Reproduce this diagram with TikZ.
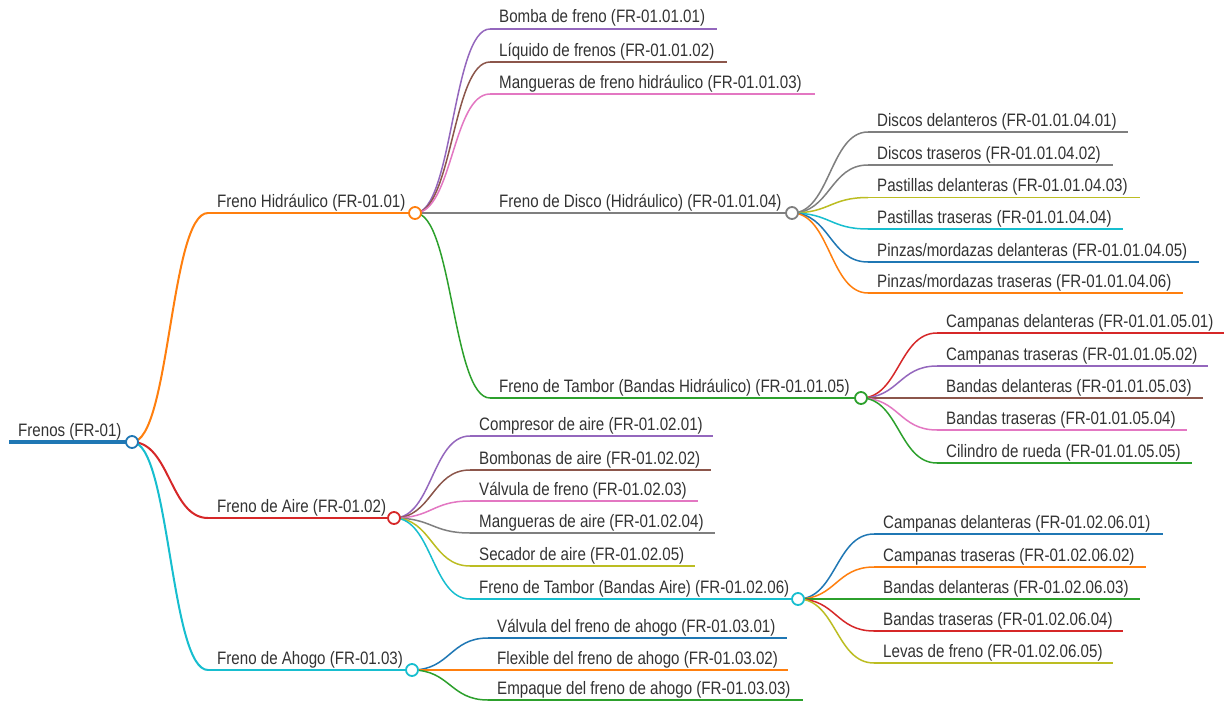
\documentclass[tikz,border=0pt]{standalone}
\usepackage{fontspec}
\setmainfont{Liberation Sans}[FakeStretch=0.84]
\usetikzlibrary{calc}

% category palette
\definecolor{cBlue}{HTML}{1F77B4}
\definecolor{cOrange}{HTML}{FF7F0E}
\definecolor{cGreen}{HTML}{2CA02C}
\definecolor{cRed}{HTML}{D62728}
\definecolor{cPurple}{HTML}{9467BD}
\definecolor{cBrown}{HTML}{8C564B}
\definecolor{cPink}{HTML}{E377C2}
\definecolor{cGray}{HTML}{7F7F7F}
\definecolor{cOlive}{HTML}{BCBD22}
\definecolor{cCyan}{HTML}{17BECF}
\definecolor{txt}{HTML}{333333}

\tikzset{
  mmtext/.style={anchor=base west, inner sep=0pt, text=txt,
                 font=\fontsize{18}{22}\selectfont},
  mmdot/.style={circle, draw, fill=white, inner sep=0pt,
                minimum size=12pt, line width=1.8pt},
}

% topic: name, text x, line y, line end x, colour, width, text
\newcommand\mmnode[7]{%
  \coordinate (#1-s) at ({#2-9},#3);
  \coordinate (#1-e) at (#4,#3);
  \node[mmtext] (#1) at (#2,{#3-6}) {#7};
  \draw[draw=#5, line width=#6] (#1-s) -- (#1-e);
}
% branch curve: parent, child, colour, width
\newcommand\mmlink[4]{%
  \draw[draw=#3, line width=#4] let \p1=(#1-e), \p2=(#2-s) in
    (\p1) .. controls ({(\x1+\x2)/2},\y1) and ({(\x1+\x2)/2},\y2) .. (\p2);
}
% fork marker at the end of a topic line
\newcommand\mmdot[2]{\node[mmdot, draw=#2] (#1-dot) at (#1-e) {};}

\begin{document}
\begin{tikzpicture}[x=1pt, y=-1pt]
\useasboundingbox[fill=white] (0,0) rectangle (1224,704);

% root
\mmnode{r}{18}{442}{132}{cBlue}{3.5pt}{Frenos (FR-01)}

% first level
\mmnode{h}{217}{213}{415}{cOrange}{2pt}{Freno Hidráulico (FR-01.01)}
\mmnode{a}{217}{518}{394}{cRed}{2pt}{Freno de Aire (FR-01.02)}
\mmnode{g}{217}{670}{412}{cCyan}{2pt}{Freno de Ahogo (FR-01.03)}
\mmlink{r}{h}{cOrange}{2pt}
\mmlink{r}{a}{cRed}{2pt}
\mmlink{r}{g}{cCyan}{2pt}

% hydraulic brake
\mmnode{h1}{499}{29}{717}{cPurple}{1.5pt}{Bomba de freno (FR-01.01.01)}
\mmnode{h2}{499}{62}{727}{cBrown}{1.5pt}{Líquido de frenos (FR-01.01.02)}
\mmnode{h3}{499}{94}{815}{cPink}{1.5pt}{Mangueras de freno hidráulico (FR-01.01.03)}
\mmnode{h4}{499}{213}{792}{cGray}{1.5pt}{Freno de Disco (Hidráulico) (FR-01.01.04)}
\mmnode{h5}{499}{398}{861}{cGreen}{1.5pt}{Freno de Tambor (Bandas Hidráulico) (FR-01.01.05)}
\mmlink{h}{h1}{cPurple}{1.5pt}
\mmlink{h}{h2}{cBrown}{1.5pt}
\mmlink{h}{h3}{cPink}{1.5pt}
\mmlink{h}{h4}{cGray}{1.5pt}
\mmlink{h}{h5}{cGreen}{1.5pt}

% disc brake
\mmnode{d1}{877}{132}{1128}{cGray}{1.5pt}{Discos delanteros (FR-01.01.04.01)}
\mmnode{d2}{877}{165}{1113}{cGray}{1.5pt}{Discos traseros (FR-01.01.04.02)}
\mmnode{d3}{877}{197.5}{1140}{cOlive}{1.5pt}{Pastillas delanteras (FR-01.01.04.03)}
\mmnode{d4}{877}{229}{1123}{cCyan}{1.5pt}{Pastillas traseras (FR-01.01.04.04)}
\mmnode{d5}{877}{262}{1199}{cBlue}{1.5pt}{Pinzas/mordazas delanteras (FR-01.01.04.05)}
\mmnode{d6}{877}{293}{1183}{cOrange}{1.5pt}{Pinzas/mordazas traseras (FR-01.01.04.06)}
\mmlink{h4}{d1}{cGray}{1.5pt}
\mmlink{h4}{d2}{cGray}{1.5pt}
\mmlink{h4}{d3}{cOlive}{1.5pt}
\mmlink{h4}{d4}{cCyan}{1.5pt}
\mmlink{h4}{d5}{cBlue}{1.5pt}
\mmlink{h4}{d6}{cOrange}{1.5pt}

% hydraulic drum brake
\mmnode{t1}{946}{333}{1224}{cRed}{1.5pt}{Campanas delanteras (FR-01.01.05.01)}
\mmnode{t2}{946}{366}{1208}{cPurple}{1.5pt}{Campanas traseras (FR-01.01.05.02)}
\mmnode{t3}{946}{398}{1203}{cBrown}{1.5pt}{Bandas delanteras (FR-01.01.05.03)}
\mmnode{t4}{946}{430}{1187}{cPink}{1.5pt}{Bandas traseras (FR-01.01.05.04)}
\mmnode{t5}{946}{463}{1192}{cGreen}{1.5pt}{Cilindro de rueda (FR-01.01.05.05)}
\mmlink{h5}{t1}{cRed}{1.5pt}
\mmlink{h5}{t2}{cPurple}{1.5pt}
\mmlink{h5}{t3}{cBrown}{1.5pt}
\mmlink{h5}{t4}{cPink}{1.5pt}
\mmlink{h5}{t5}{cGreen}{1.5pt}

% air brake
\mmnode{a1}{479}{436}{713}{cPurple}{1.5pt}{Compresor de aire (FR-01.02.01)}
\mmnode{a2}{479}{470}{711}{cBrown}{1.5pt}{Bombonas de aire (FR-01.02.02)}
\mmnode{a3}{479}{501}{698}{cPink}{1.5pt}{Válvula de freno (FR-01.02.03)}
\mmnode{a4}{479}{533}{715}{cGray}{1.5pt}{Mangueras de aire (FR-01.02.04)}
\mmnode{a5}{479}{566}{695}{cOlive}{1.5pt}{Secador de aire (FR-01.02.05)}
\mmnode{a6}{479}{599}{798}{cCyan}{1.5pt}{Freno de Tambor (Bandas Aire) (FR-01.02.06)}
\mmlink{a}{a1}{cPurple}{1.5pt}
\mmlink{a}{a2}{cBrown}{1.5pt}
\mmlink{a}{a3}{cPink}{1.5pt}
\mmlink{a}{a4}{cGray}{1.5pt}
\mmlink{a}{a5}{cOlive}{1.5pt}
\mmlink{a}{a6}{cCyan}{1.5pt}

% air drum brake
\mmnode{b1}{883}{534}{1163}{cBlue}{1.5pt}{Campanas delanteras (FR-01.02.06.01)}
\mmnode{b2}{883}{567}{1146}{cOrange}{1.5pt}{Campanas traseras (FR-01.02.06.02)}
\mmnode{b3}{883}{599}{1140}{cGreen}{1.5pt}{Bandas delanteras (FR-01.02.06.03)}
\mmnode{b4}{883}{631}{1123}{cRed}{1.5pt}{Bandas traseras (FR-01.02.06.04)}
\mmnode{b5}{883}{663}{1113}{cOlive}{1.5pt}{Levas de freno (FR-01.02.06.05)}
\mmlink{a6}{b1}{cBlue}{1.5pt}
\mmlink{a6}{b2}{cOrange}{1.5pt}
\mmlink{a6}{b3}{cGreen}{1.5pt}
\mmlink{a6}{b4}{cRed}{1.5pt}
\mmlink{a6}{b5}{cOlive}{1.5pt}

% exhaust brake
\mmnode{g1}{497}{638}{787}{cBlue}{1.5pt}{Válvula del freno de ahogo (FR-01.03.01)}
\mmnode{g2}{497}{670}{788}{cOrange}{1.5pt}{Flexible del freno de ahogo (FR-01.03.02)}
\mmnode{g3}{497}{700}{803}{cGreen}{1.5pt}{Empaque del freno de ahogo (FR-01.03.03)}
\mmlink{g}{g1}{cBlue}{1.5pt}
\mmlink{g}{g2}{cOrange}{1.5pt}
\mmlink{g}{g3}{cGreen}{1.5pt}

% fork markers
\mmdot{r}{cBlue}
\mmdot{h}{cOrange}
\mmdot{a}{cRed}
\mmdot{g}{cCyan}
\mmdot{h4}{cGray}
\mmdot{h5}{cGreen}
\mmdot{a6}{cCyan}
\end{tikzpicture}
\end{document}
